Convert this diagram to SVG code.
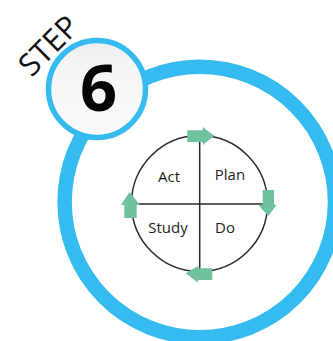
<svg xmlns="http://www.w3.org/2000/svg" width="333" height="341" viewBox="0 0 333 341">
<defs>
<linearGradient id="g" x1="0" y1="0" x2="0" y2="1"><stop offset="0" stop-color="#ededed"/><stop offset="0.25" stop-color="#f5f5f5"/><stop offset="1" stop-color="#fbfbfb"/></linearGradient>
</defs>
<style>
.t{font-family:"Open Sans","Noto Sans",sans-serif;font-size:15px;fill:#231f20;text-anchor:middle}
.l{stroke:#2b2b2b;fill:none}
.a{fill:#70c19d}
</style>
<rect width="333" height="341" fill="#fff"/>
<g id="ring"><circle cx="199.8" cy="202" r="135.2" fill="#fff" stroke="#35bbef" stroke-width="14.5"/></g>
<g id="badge">
<circle cx="97" cy="89" r="48.5" fill="url(#g)" stroke="#35bbef" stroke-width="5.5"/>
<text x="98.5" y="110.5" font-family="'Open Sans','Noto Sans',sans-serif" font-weight="700" font-size="65" fill="#050505" text-anchor="middle">6</text>
</g>
<text id="step" transform="translate(31.5 78) rotate(-45)" font-family="'Open Sans','Noto Sans',sans-serif" font-size="31" fill="#111">STEP</text>
<g id="cycle">
<circle class="l" cx="199.5" cy="203.5" r="68" stroke-width="1.5"/>
<path class="l" d="M199.7 135.5V271.5M131.5 204H267.5" stroke-width="1.5"/>
</g>
<g id="connectors">
<path class="a" d="M187.3 130.3H202.7V127L214.3 135.8L202.7 145V142H187.3Z"/>
<path class="a" d="M262.7 190H274V204.7H276.7L268.3 216L258 204.7H262.7Z"/>
<path class="a" d="M212.3 268.3V280H198V282.7L185.7 273.3L198 266V268.3Z"/>
<path class="a" d="M124.3 218V205H121L129.5 192L140 205H136.7V218Z"/>
</g>
<g id="act"><text class="t" x="169" y="182">Act</text></g>
<g id="plan"><text class="t" x="230" y="180">Plan</text></g>
<g id="study"><text class="t" x="168" y="233">Study</text></g>
<g id="do"><text class="t" x="225" y="233">Do</text></g>
</svg>
